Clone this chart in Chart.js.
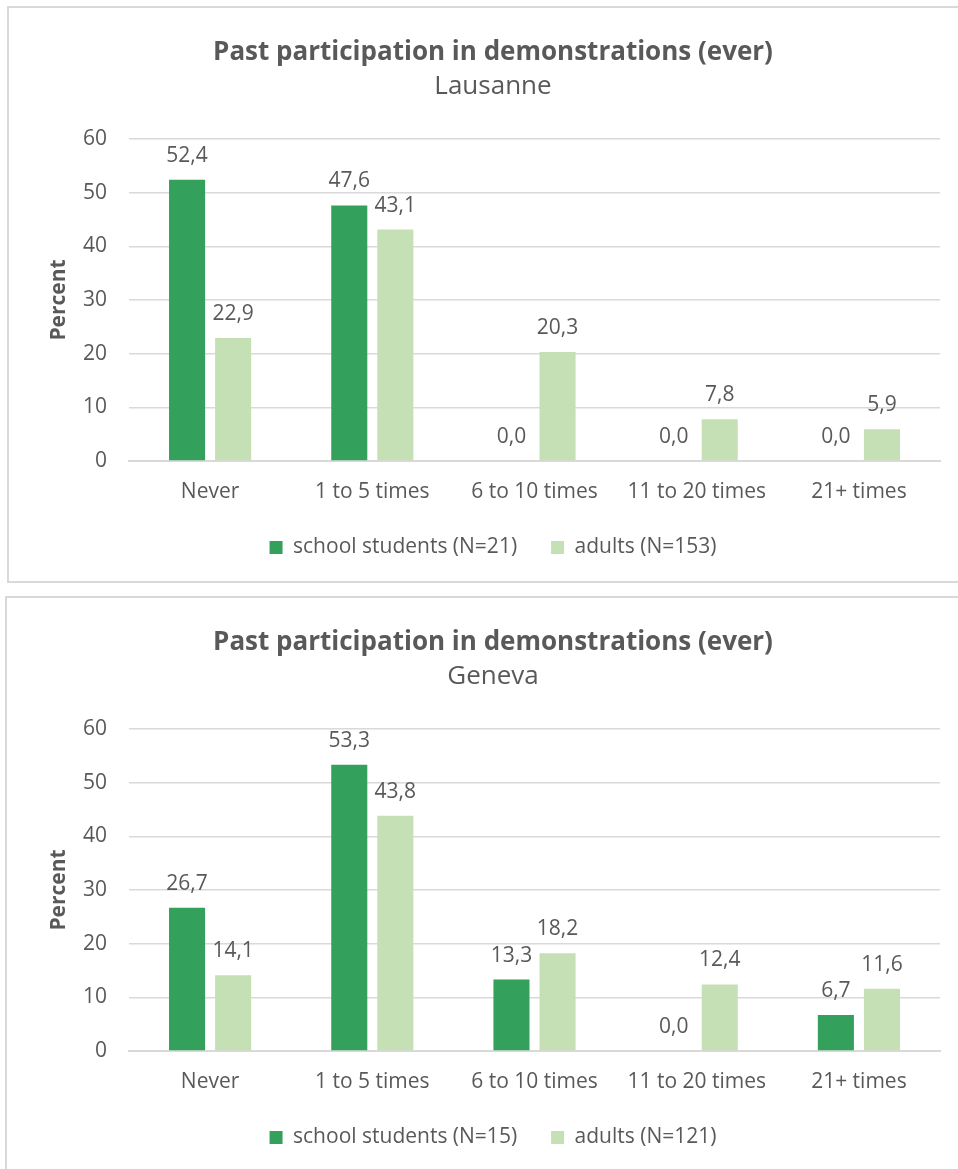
<!DOCTYPE html>
<html>
<head>
<meta charset="utf-8">
<script src="https://cdn.jsdelivr.net/npm/chart.js@4"></script>
<style>
body{margin:0;background:#fff;overflow:hidden;width:958px;height:1169px;position:relative;}
.box{position:absolute;border:2px solid #d9d9d9;background:#fff;}
#box1{left:7px;top:6px;width:960px;height:573px;}
#box2{left:5px;top:596px;width:962px;height:573px;}
</style>
</head>
<body>
<div class="box" id="box1"><canvas id="c1" width="960" height="573"></canvas></div>
<div class="box" id="box2"><canvas id="c2" width="962" height="573"></canvas></div>
<script>
const categories = ['Never', '1 to 5 times', '6 to 10 times', '11 to 20 times', '21+ times'];
const yTicks = [0, 10, 20, 30, 40, 50, 60];

const lausanneStudents = [52.4, 47.6, 0.0, 0.0, 0.0];
const lausanneAdults = [22.9, 43.1, 20.3, 7.8, 5.9];
const genevaStudents = [26.7, 53.3, 13.3, 0.0, 6.7];
const genevaAdults = [14.1, 43.8, 18.2, 12.4, 11.6];

const darkGreen = '#33a05b';
const lightGreen = '#c5e0b4';
const textGray = '#595959';
const fontFam = '"Open Sans", sans-serif';

// labels over each bar, positioned from the bar elements
const barLabels = {
  id: 'barLabels',
  afterDatasetsDraw(chart) {
    const ctx = chart.ctx;
    ctx.save();
    ctx.font = '21px ' + fontFam;
    ctx.fillStyle = textGray;
    ctx.textAlign = 'center';
    ctx.textBaseline = 'middle';
    chart.data.datasets.forEach((ds, i) => {
      chart.getDatasetMeta(i).data.forEach((bar, j) => {
        ctx.fillText(ds.data[j].toFixed(1).replace('.', ','), bar.x, bar.y - 24);
      });
    });
    ctx.restore();
  }
};

function makeChart(id, city, students, adults, nS, nA, leftPad, axisW) {
  new Chart(document.getElementById(id), {
    type: 'bar',
    data: {
      labels: categories,
      datasets: [
        {label: 'school students (N=' + nS + ')', data: students, backgroundColor: darkGreen,
         categoryPercentage: 0.568, barPercentage: 0.783},
        {label: 'adults (N=' + nA + ')', data: adults, backgroundColor: lightGreen,
         categoryPercentage: 0.568, barPercentage: 0.783}
      ]
    },
    options: {
      responsive: false,
      animation: false,
      layout: {padding: {left: leftPad, right: 29, top: 0, bottom: 13}},
      scales: {
        x: {
          grid: {display: false, drawTicks: false},
          border: {color: '#d9d9d9', width: 2},
          ticks: {color: textGray, font: {family: fontFam, size: 21}, padding: 18},
          afterFit(s) { s.height = 42; }
        },
        y: {
          min: 0, max: 60,
          afterBuildTicks(s) { s.ticks = yTicks.map(v => ({value: v})); },
          grid: {color: '#d9d9d9', lineWidth: 1.5, drawTicks: false},
          border: {display: false},
          ticks: {color: textGray, font: {family: fontFam, size: 21}, padding: 22},
          title: {display: true, text: 'Percent', color: textGray, font: {family: fontFam, size: 21, weight: 'bold'}, padding: 0},
          afterFit(s) { s.width = axisW - leftPad; }
        }
      },
      plugins: {
        title: {display: true, text: 'Past participation in demonstrations (ever)', color: textGray,
                font: {family: fontFam, size: 26, weight: 'bold'}, padding: {top: 28.5, bottom: 3}},
        subtitle: {display: true, text: city, color: textGray,
                   font: {family: fontFam, size: 26}, padding: {top: 0, bottom: 37}},
        legend: {position: 'bottom',
                 labels: {color: textGray, font: {family: fontFam, size: 21}, boxWidth: 13, boxHeight: 13, padding: 34}},
        tooltip: {enabled: false}
      }
    },
    plugins: [barLabels]
  });
}

makeChart('c1', 'Lausanne', lausanneStudents, lausanneAdults, 21, 153, 37, 120);
makeChart('c2', 'Geneva', genevaStudents, genevaAdults, 15, 121, 39, 122);
</script>
</body>
</html>
